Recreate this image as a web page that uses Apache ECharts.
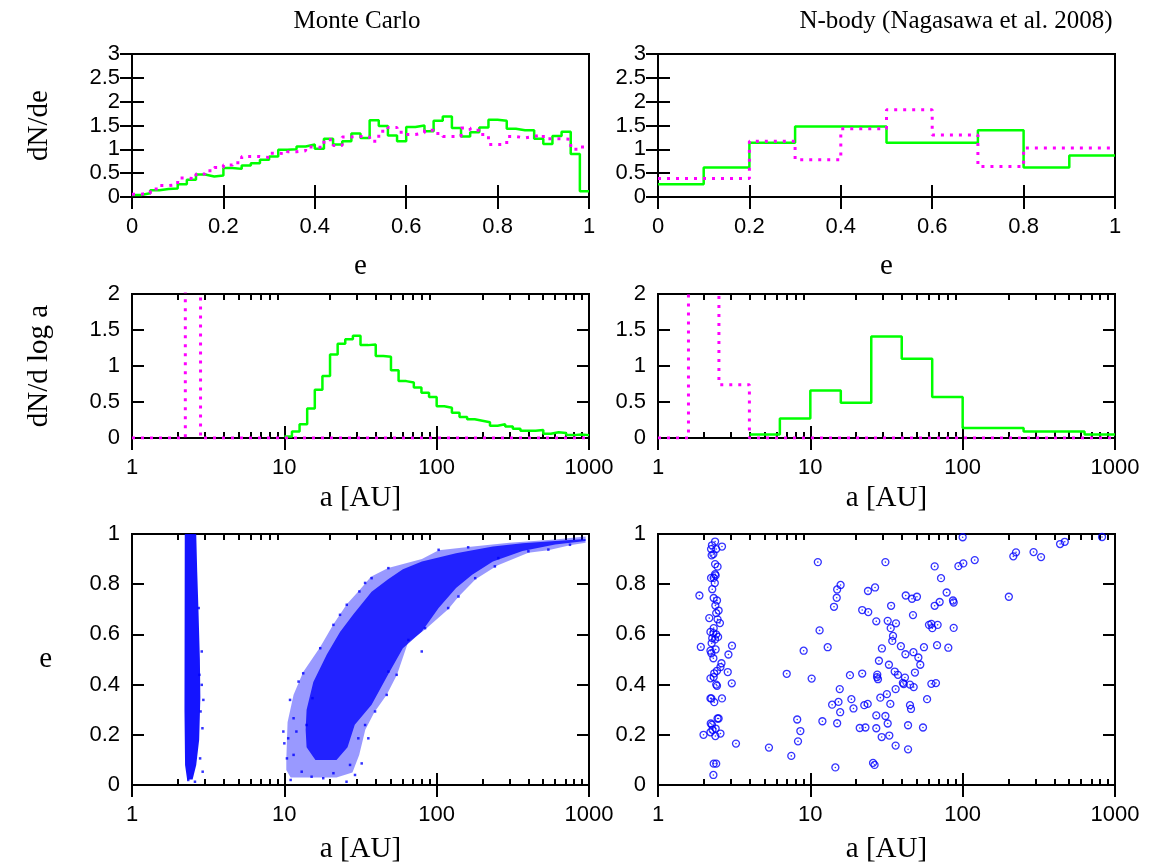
<!DOCTYPE html>
<html>
<head>
<meta charset="utf-8">
<script src="https://cdn.jsdelivr.net/npm/echarts@6/dist/echarts.min.js"></script>
<style>
  html, body { margin: 0; padding: 0; background: #fff; }
  #chart { width: 1156px; height: 867px; }
</style>
</head>
<body>
<div id="chart"></div>
<script>
// ---- data ----
// Monte Carlo dN/de, 50 bins of width 0.02
const mcEGreen = [0.04, 0.08, 0.14, 0.17, 0.18, 0.27, 0.36, 0.47, 0.43, 0.45,
  0.61, 0.59, 0.66, 0.71, 0.78, 0.85, 0.99, 1.00, 1.06, 1.10,
  1.01, 1.22, 1.10, 1.17, 1.33, 1.24, 1.61, 1.49, 1.29, 1.17,
  1.47, 1.50, 1.38, 1.60, 1.69, 1.45, 1.27, 1.36, 1.46, 1.62,
  1.60, 1.43, 1.40, 1.40, 1.22, 1.11, 1.28, 1.37, 0.90, 0.12]
const mcEMagenta = [0.06, 0.08, 0.17, 0.24, 0.26, 0.40, 0.38, 0.48, 0.55, 0.62,
  0.67, 0.72, 0.85, 0.85, 0.83, 0.92, 0.90, 0.95, 0.97, 1.05,
  1.04, 1.20, 1.08, 1.26, 1.27, 1.26, 1.17, 1.38, 1.46, 1.36,
  1.31, 1.35, 1.40, 1.33, 1.27, 1.27, 1.45, 1.40, 1.31, 1.10,
  1.10, 1.27, 1.24, 1.27, 1.31, 1.22, 1.22, 1.21, 1.00, 1.05]

// N-body dN/de, 10 bins of width 0.1
const nbEGreen = [0.27, 0.62, 1.14, 1.48, 1.48, 1.14, 1.14, 1.40, 0.62, 0.87]
const nbEMagenta = [0.39, 0.39, 1.17, 0.78, 1.43, 1.83, 1.30, 0.64, 1.03, 1.03]

// Monte Carlo dN/dlog a, bin edges in log10(a)
const mcLogaGreenEdges = [1.0, 1.05, 1.1, 1.15, 1.2, 1.25, 1.3, 1.35, 1.4, 1.45,
  1.5, 1.55, 1.6, 1.65, 1.7, 1.75, 1.8, 1.85, 1.9, 1.95,
  2.0, 2.05, 2.1, 2.15, 2.2, 2.25, 2.3, 2.35, 2.4, 2.45,
  2.5, 2.55, 2.6, 2.65, 2.7, 2.75, 2.8, 2.85, 2.9, 2.95, 3.0]
const mcLogaGreen = [0.02, 0.09, 0.19, 0.41, 0.67, 0.86, 1.16, 1.31, 1.37, 1.42,
  1.29, 1.30, 1.14, 1.13, 0.94, 0.79, 0.77, 0.70, 0.63, 0.57,
  0.44, 0.42, 0.35, 0.29, 0.26, 0.24, 0.22, 0.17, 0.19, 0.16,
  0.13, 0.10, 0.10, 0.11, 0.06, 0.08, 0.07, 0.04, 0.05, 0.04]
const mcLogaMagentaEdges = [0, 0.35, 0.45, 3.0]
const mcLogaMagenta = [0, 6, 0]   // middle bin runs off the top

// N-body dN/dlog a
const nbLogaGreenEdges = [0.6, 0.8, 1.0, 1.2, 1.4, 1.6, 1.8, 2.0, 2.4, 2.8, 3.0]
const nbLogaGreen = [0.05, 0.27, 0.66, 0.49, 1.41, 1.10, 0.57, 0.14, 0.09, 0.05]
const nbLogaMagentaEdges = [0, 0.2, 0.4, 0.6, 3.0]
const nbLogaMagenta = [0, 6, 0.74, 0]

// Monte Carlo a-e plane: outline of the dense regions [a, e], plus stray points
const mcColumnOutline = [[2.22, 1.0], [2.64, 1.0], [2.68, 0.85], [2.73, 0.7], [2.79, 0.5],
  [2.81, 0.35], [2.76, 0.18], [2.64, 0.08], [2.50, 0.022], [2.30, 0.022], [2.23, 0.08], [2.21, 0.3]]
const mcCloudOuter = [[10.3, 0.1], [10.5, 0.25], [11.5, 0.36], [13.3, 0.45], [17.2, 0.55],
  [21, 0.64], [25.7, 0.72], [31, 0.775], [37, 0.83], [48, 0.865], [80, 0.9], [103, 0.935],
  [161, 0.948], [300, 0.965], [600, 0.978], [950, 0.99], [950, 0.965], [750, 0.955],
  [540, 0.935], [400, 0.925], [250, 0.875], [180, 0.82], [139, 0.75], [119, 0.7], [84, 0.62],
  [65, 0.57], [55, 0.44], [47, 0.36], [39, 0.29], [34, 0.22], [31, 0.12], [28, 0.05],
  [22, 0.03], [15, 0.03], [11, 0.03], [10.3, 0.06]]
const mcCloudCore = [[14, 0.3], [15.5, 0.41], [19, 0.52], [23.2, 0.61], [28.4, 0.68],
  [37.4, 0.77], [48, 0.82], [60, 0.86], [80, 0.89], [134, 0.923], [234, 0.95], [366, 0.963],
  [600, 0.972], [950, 0.98], [950, 0.972], [600, 0.958], [366, 0.932], [234, 0.89],
  [171, 0.838], [134, 0.785], [103, 0.705], [80, 0.612], [60, 0.545], [48, 0.44],
  [37.4, 0.32], [29, 0.24], [26, 0.15], [22, 0.1], [16, 0.1], [14, 0.15], [13.8, 0.22]]
const mcStray = [[9.85, 0.213], [10.0, 0.166], [10.4, 0.106], [10.9, 0.339], [11.0, 0.02],
  [11.5, 0.12], [12.4, 0.412], [13.3, 0.445], [14.0, 0.239], [13.0, 0.053], [15.1, 0.033],
  [17.2, 0.545], [18.0, 0.027], [21.0, 0.638], [23.2, 0.678], [21.0, 0.047], [25.7, 0.718],
  [27.0, 0.08], [31.1, 0.771], [15.3, 0.346], [11.5, 0.266], [10.6, 0.186], [12.0, 0.213],
  [25.6, 0.013], [29.1, 0.04], [32.2, 0.086], [30.6, 0.186], [35.6, 0.186], [33.9, 0.239],
  [39.4, 0.293], [47.0, 0.359], [48.2, 0.452], [54.6, 0.439], [79.8, 0.532], [65.2, 0.578],
  [83.9, 0.625], [119, 0.705], [139, 0.751], [179, 0.824], [241, 0.871], [254, 0.904],
  [400, 0.931], [541, 0.938], [750, 0.957], [48.2, 0.864], [33.9, 0.805], [37.4, 0.824],
  [103, 0.937], [161, 0.947], [2.87, 0.532], [2.94, 0.339], [2.90, 0.226], [2.80, 0.106],
  [2.91, 0.053], [2.82, 0.293], [2.77, 0.439], [2.34, 0.02], [2.59, 0.013], [2.87, 0.399],
  [2.74, 0.705]]

// N-body a-e plane [a, e]
const nbPoints = [[2.37, 0.97], [2.26, 0.955], [2.23, 0.94], [2.41, 0.94], [2.63, 0.95],
  [2.31, 0.92], [2.25, 0.915], [2.37, 0.88], [2.46, 0.87], [2.37, 0.84], [2.23, 0.825],
  [2.32, 0.825], [2.39, 0.835], [2.36, 0.805], [2.27, 0.78], [1.87, 0.755], [2.32, 0.745],
  [2.44, 0.735], [2.38, 0.715], [2.5, 0.695], [2.17, 0.665], [2.46, 0.66], [2.41, 0.685],
  [2.55, 0.645], [2.32, 0.625], [2.21, 0.61], [2.31, 0.605], [2.41, 0.6], [2.48, 0.59],
  [2.27, 0.585], [2.37, 0.58], [2.25, 0.565], [1.91, 0.55], [3.06, 0.555], [2.21, 0.535],
  [2.39, 0.54], [2.24, 0.525], [2.9, 0.52], [2.31, 0.505], [2.61, 0.485], [2.57, 0.47],
  [2.44, 0.455], [2.34, 0.445], [2.87, 0.45], [2.21, 0.425], [2.32, 0.43], [2.41, 0.4],
  [2.44, 0.395], [3.05, 0.405], [2.21, 0.345], [2.24, 0.345], [2.63, 0.345], [2.34, 0.33],
  [2.46, 0.265], [2.5, 0.265], [2.22, 0.245], [2.26, 0.24], [2.39, 0.225], [2.21, 0.21],
  [2.28, 0.22], [2.38, 0.195], [2.57, 0.205], [1.99, 0.2], [3.25, 0.165], [2.32, 0.085],
  [2.41, 0.085], [2.31, 0.04],
  [11.2, 0.888], [15.8, 0.797], [15.0, 0.779], [14.9, 0.746], [14.3, 0.71], [11.5, 0.616],
  [13.0, 0.549], [9.04, 0.535], [7.0, 0.443], [10.2, 0.424], [15.6, 0.382], [18.2, 0.4375],
  [21.9, 0.444], [27.5, 0.44], [27.4, 0.43], [27.8, 0.4215], [13.9, 0.32], [15.3, 0.331],
  [18.6, 0.342], [19.2, 0.305], [15.7, 0.29], [22.6, 0.318], [23.8, 0.323], [28.8, 0.348],
  [27.1, 0.277], [12.0, 0.254], [8.2, 0.261], [15.0, 0.246], [8.6, 0.215], [8.3, 0.174],
  [21.1, 0.227], [23.0, 0.229], [27.1, 0.226], [29.4, 0.191], [5.35, 0.149], [7.5, 0.116],
  [14.6, 0.07], [25.8, 0.088], [26.4, 0.08], [21.9, 0.697], [24.0, 0.689], [23.9, 0.773],
  [26.6, 0.787], [27.1, 0.652], [28.2, 0.495], [29.5, 0.544],
  [31.1, 0.888], [32.2, 0.654], [33.9, 0.714], [33.7, 0.625], [36.5, 0.644], [34.9, 0.594],
  [34.5, 0.574], [39.3, 0.553], [42.1, 0.521], [47.5, 0.529], [51.2, 0.508], [52.7, 0.479],
  [32.8, 0.479], [35.8, 0.452], [37.6, 0.439], [48.6, 0.448], [41.8, 0.428], [40.5, 0.407],
  [41.0, 0.402], [45.1, 0.4], [47.7, 0.39], [36.3, 0.382], [31.8, 0.362], [33.5, 0.323],
  [31.1, 0.275], [32.2, 0.245], [45.1, 0.318], [45.8, 0.303], [43.8, 0.238], [54.9, 0.229],
  [58.4, 0.342], [33.0, 0.197], [36.3, 0.157], [43.8, 0.142], [42.3, 0.755], [46.5, 0.742],
  [50.1, 0.75], [47.2, 0.677], [78.5, 0.767], [72.1, 0.824], [65.5, 0.871], [65.5, 0.714],
  [70.6, 0.729], [86.4, 0.735], [87.3, 0.727], [60.1, 0.638], [62.3, 0.642], [63.2, 0.625],
  [68.5, 0.638], [87.3, 0.626], [55.7, 0.549], [67.9, 0.557], [80.5, 0.547], [62.3, 0.403],
  [66.8, 0.406], [93.8, 0.872], [101, 0.883], [120, 0.896], [100, 0.987], [201, 0.75],
  [215, 0.911], [224, 0.927], [292, 0.928], [327, 0.908], [436, 0.96], [468, 0.969], [822, 0.988]]

const majorLog = [1, 10, 100, 1000]
const minorLog = [2, 3, 4, 5, 6, 7, 8, 9, 20, 30, 40, 50, 60, 70, 80, 90,
  200, 300, 400, 500, 600, 700, 800, 900]

// ---- helpers ----
const GREEN = '#00ff00'
const MAGENTA = '#ff00ff'
const BLUE = '#0000ff'
const tickFont = { fontFamily: 'Liberation Sans', fontSize: 22, color: '#000' }
const nameFont = { fontFamily: 'Liberation Serif', fontSize: 29, color: '#000' }

function steps(edges, values, toX) {
  const pts = []
  values.forEach((v, i) => {
    pts.push([toX(edges[i]), v])
    pts.push([toX(edges[i + 1]), v])
  })
  return pts
}
const lin = (x) => x
const pow10 = (x) => Math.pow(10, x)
function uniformEdges(n, w) {
  const e = []
  for (let i = 0; i <= n; i++) e.push(+(i * w).toFixed(4))
  return e
}

const grids = []
const xAxes = []
const yAxes = []
const series = []

function tick(len, values) {
  const t = { show: true, inside: true, length: len, lineStyle: { color: '#000', width: 2 } }
  if (values) t.customValues = values
  return t
}

function addPanel(p) {
  const gi = grids.length
  grids.push({ left: p.left, top: p.top, width: 457, height: p.height,
    show: true, borderColor: '#000', borderWidth: 2, backgroundColor: 'transparent' })
  const xi = xAxes.length
  const isLog = p.xType === 'log'
  const base = isLog
    ? { type: 'log', logBase: 10, min: 1, max: 1000 }
    : { type: 'value', min: 0, max: 1, interval: 0.2 }
  const common = { gridIndex: gi, axisLine: { show: false }, splitLine: { show: false } }
  xAxes.push(Object.assign({}, base, common, {
    position: 'bottom',
    axisTick: tick(12, isLog ? majorLog : null),
    axisLabel: Object.assign({ margin: p.xLabelMargin }, tickFont,
      isLog ? { customValues: majorLog, formatter: (v) => String(Math.round(v)) } : {}),
    name: p.xName, nameLocation: 'middle', nameGap: p.xNameGap, nameTextStyle: nameFont,
  }))
  xAxes.push(Object.assign({}, base, common, {
    position: 'top', axisTick: tick(12, isLog ? majorLog : null), axisLabel: { show: false },
  }))
  if (isLog) {
    xAxes.push(Object.assign({}, base, common, {
      position: 'bottom', axisTick: tick(6, minorLog), axisLabel: { show: false },
    }))
    xAxes.push(Object.assign({}, base, common, {
      position: 'top', axisTick: tick(6, minorLog), axisLabel: { show: false },
    }))
  }
  const yi = yAxes.length
  const ybase = { type: 'value', min: 0, max: p.yMax, interval: p.yInterval,
    gridIndex: gi, axisLine: { show: false }, splitLine: { show: false } }
  yAxes.push(Object.assign({}, ybase, {
    position: 'left', axisTick: tick(12), axisLabel: Object.assign({ margin: 12 }, tickFont),
    name: p.yName, nameLocation: 'middle', nameRotate: p.yNameRotate,
    nameGap: p.yNameGap, nameTextStyle: nameFont,
  }))
  yAxes.push(Object.assign({}, ybase, {
    position: 'right', axisTick: tick(12), axisLabel: { show: false },
  }))
  return { xi, yi }
}

function greenLine(ax, data) {
  return { type: 'line', xAxisIndex: ax.xi, yAxisIndex: ax.yi, data, symbol: 'none',
    lineStyle: { color: GREEN, width: 2.5 }, z: 3, silent: true }
}
function magentaLine(ax, data) {
  return { type: 'line', xAxisIndex: ax.xi, yAxisIndex: ax.yi, data, symbol: 'none',
    lineStyle: { color: MAGENTA, width: 3, type: [3, 6], cap: 'butt' }, z: 4, silent: true }
}
function polygon(ax, pts, fill) {
  return { type: 'custom', xAxisIndex: ax.xi, yAxisIndex: ax.yi, data: pts, silent: true, z: 2,
    renderItem: function (params, api) {
      if (params.dataIndex !== 0) return null
      return { type: 'polygon', shape: { points: pts.map((q) => api.coord(q)) },
        style: { fill: fill } }
    } }
}

// ---- panels ----
const L = 132, R = 658
const tl = addPanel({ left: L, top: 54, height: 143, xType: 'value', yMax: 3, yInterval: 0.5,
  xName: 'e', xNameGap: 55, xLabelMargin: 19, yName: 'dN/de', yNameRotate: 90, yNameGap: 78 })
const tr = addPanel({ left: R, top: 54, height: 143, xType: 'value', yMax: 3, yInterval: 0.5,
  xName: 'e', xNameGap: 55, xLabelMargin: 19 })
const ml = addPanel({ left: L, top: 294, height: 144, xType: 'log', yMax: 2, yInterval: 0.5,
  xName: 'a [AU]', xNameGap: 46, xLabelMargin: 19, yName: 'dN/d log a', yNameRotate: 90, yNameGap: 78 })
const mr = addPanel({ left: R, top: 294, height: 144, xType: 'log', yMax: 2, yInterval: 0.5,
  xName: 'a [AU]', xNameGap: 46, xLabelMargin: 19 })
const bl = addPanel({ left: L, top: 534, height: 251, xType: 'log', yMax: 1, yInterval: 0.2,
  xName: 'a [AU]', xNameGap: 50, xLabelMargin: 19, yName: 'e', yNameRotate: 0, yNameGap: 80 })
const br = addPanel({ left: R, top: 534, height: 251, xType: 'log', yMax: 1, yInterval: 0.2,
  xName: 'a [AU]', xNameGap: 50, xLabelMargin: 19 })

series.push(greenLine(tl, steps(uniformEdges(50, 0.02), mcEGreen, lin)))
series.push(magentaLine(tl, steps(uniformEdges(50, 0.02), mcEMagenta, lin)))
series.push(greenLine(tr, steps(uniformEdges(10, 0.1), nbEGreen, lin)))
series.push(magentaLine(tr, steps(uniformEdges(10, 0.1), nbEMagenta, lin)))
series.push(greenLine(ml, steps(mcLogaGreenEdges, mcLogaGreen, pow10)))
series.push(magentaLine(ml, steps(mcLogaMagentaEdges, mcLogaMagenta, pow10)))
series.push(greenLine(mr, steps(nbLogaGreenEdges, nbLogaGreen, pow10)))
series.push(magentaLine(mr, steps(nbLogaMagentaEdges, nbLogaMagenta, pow10)))

series.push(polygon(bl, mcCloudOuter, 'rgba(0,0,255,0.4)'))
series.push(polygon(bl, mcCloudCore, 'rgba(0,0,255,0.78)'))
series.push(polygon(bl, mcColumnOutline, 'rgba(0,0,255,0.92)'))
series.push({ type: 'scatter', xAxisIndex: bl.xi, yAxisIndex: bl.yi, data: mcStray,
  symbol: 'rect', symbolSize: 2.5, itemStyle: { color: BLUE }, silent: true, z: 3 })

series.push({ type: 'scatter', xAxisIndex: br.xi, yAxisIndex: br.yi, data: nbPoints,
  symbol: 'circle', symbolSize: 7,
  itemStyle: { color: 'rgba(0,0,0,0)', borderColor: BLUE, borderWidth: 1.3 }, silent: true, z: 3 })
series.push({ type: 'scatter', xAxisIndex: br.xi, yAxisIndex: br.yi, data: nbPoints,
  symbol: 'circle', symbolSize: 1.6, itemStyle: { color: BLUE }, silent: true, z: 3 })

const chart = echarts.init(document.getElementById('chart'))
chart.setOption({
  animation: false,
  backgroundColor: '#fff',
  title: [
    { text: 'Monte Carlo', left: 352, top: 4, textAlign: 'center',
      textStyle: { fontFamily: 'Liberation Serif', fontSize: 25, fontWeight: 'normal', color: '#000' } },
    { text: 'N-body (Nagasawa et al. 2008)', left: 951, top: 4, textAlign: 'center',
      textStyle: { fontFamily: 'Liberation Serif', fontSize: 25, fontWeight: 'normal', color: '#000' } },
  ],
  grid: grids,
  xAxis: xAxes,
  yAxis: yAxes,
  series: series,
})
</script>
</body>
</html>
